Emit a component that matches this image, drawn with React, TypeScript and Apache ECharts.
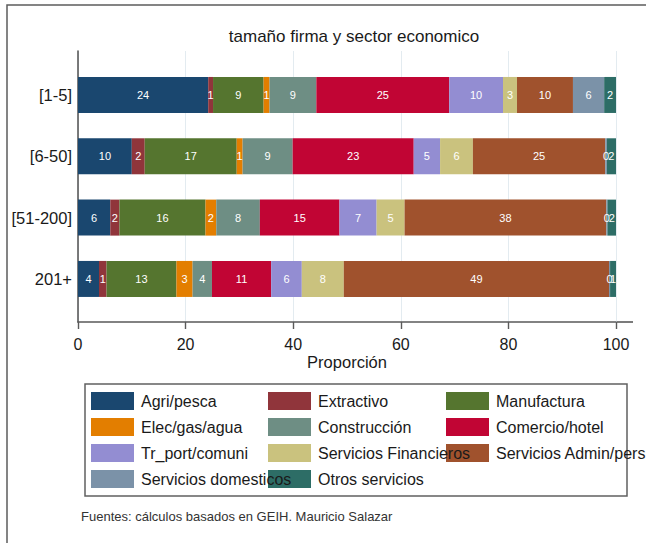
import React, { useEffect, useRef } from 'react';
import * as echarts from 'echarts';

const categories = ['[1-5]', '[6-50]', '[51-200]', '201+'];

const sectorNames = [
  'Agri/pesca', 'Extractivo', 'Manufactura',
  'Elec/gas/agua', 'Construcción', 'Comercio/hotel',
  'Tr_port/comuni', 'Servicios Financieros', 'Servicios Admin/pers',
  'Servicios domesticos', 'Otros servicios',
];
const sectorColors = [
  '#1a476f', '#90353b', '#55752f',
  '#e37e00', '#6e8e84', '#c10534',
  '#938dd2', '#cac27e', '#a0522d',
  '#7b92a8', '#2d6d66',
];

// values per size category: [1-5], [6-50], [51-200], 201+
const agriPesca = [24.2, 10.0, 6.0, 3.9];
const extractivo = [0.9, 2.4, 1.7, 1.4];
const manufactura = [9.4, 17.1, 16.0, 13.0];
const elecGasAgua = [1.1, 1.1, 2.0, 3.0];
const construccion = [8.7, 9.3, 8.1, 3.6];
const comercioHotel = [24.7, 22.5, 14.8, 11.0];
const trPortComuni = [10.0, 4.9, 6.9, 5.7];
const serviciosFinancieros = [2.6, 6.1, 5.2, 7.8];
const serviciosAdmin = [10.4, 24.6, 37.5, 49.3];
const serviciosDomesticos = [5.8, 0.3, 0.2, 0.2];
const otrosServicios = [2.2, 1.7, 1.6, 1.1];

const sectorValues = [
  agriPesca, extractivo, manufactura,
  elecGasAgua, construccion, comercioHotel,
  trPortComuni, serviciosFinancieros, serviciosAdmin,
  serviciosDomesticos, otrosServicios,
];

const FONT = '"Liberation Sans", Arial, Helvetica, sans-serif';

export default function App() {
  const ref = useRef<HTMLDivElement>(null);

  useEffect(() => {
    if (!ref.current) return;
    const chart = echarts.init(ref.current, null, { renderer: 'svg' });

    const series: any[] = sectorNames.map((name, i) => ({
      name,
      type: 'bar',
      stack: 'total',
      xAxisIndex: 1,
      yAxisIndex: 1,
      barWidth: 36,
      data: sectorValues[i],
      itemStyle: { color: sectorColors[i] },
      label: {
        show: true,
        position: 'inside',
        color: '#ffffff',
        fontSize: 11,
        fontFamily: FONT,
        formatter: (p: any) => String(Math.round(p.value)),
      },
    }));

    // three legend columns (row-major order of the 3-column key);
    // earlier columns drawn on top so their long texts overflow onto the next swatches
    const colX = [91, 268, 446];
    const legends = colX.map((x, c) => ({
      data: sectorNames.filter((_, i) => i % 3 === c),
      left: x,
      top: 392,
      z: 10 - c,
      orient: 'vertical',
      padding: 0,
      itemGap: 8,
      itemWidth: 43,
      itemHeight: 18,
      icon: 'rect',
      selectedMode: false,
      textStyle: {
        fontSize: 16,
        color: '#1a1a1a',
        fontFamily: FONT,
        lineHeight: 18,
        padding: [0, 0, 0, 2],
      },
    }));

    const option: any = {
      animation: false,
      backgroundColor: '#ffffff',
      title: {
        text: 'tamaño firma y sector economico',
        left: 354,
        top: 28,
        textAlign: 'center',
        padding: 0,
        textStyle: { fontSize: 17, fontWeight: 'normal', color: '#1a1a1a', fontFamily: FONT },
      },
      grid: [
        { left: 78, top: 51, width: 538, height: 271 },
        { left: 78, top: 64.3, width: 538, height: 245.3 },
      ],
      xAxis: [
        {
          type: 'value',
          gridIndex: 0,
          min: 0,
          max: 100,
          interval: 20,
          name: 'Proporción',
          nameLocation: 'middle',
          nameGap: 31,
          nameTextStyle: { fontSize: 16.5, color: '#1a1a1a', fontFamily: FONT },
          axisLine: { show: true, lineStyle: { color: '#5a5a5a', width: 1.6 } },
          axisTick: { show: true, length: 7, lineStyle: { color: '#5a5a5a', width: 1.4 } },
          axisLabel: { fontSize: 16, color: '#1a1a1a', margin: 14, fontFamily: FONT },
          splitLine: { show: true, lineStyle: { color: '#e3ebf0', width: 1 } },
        },
        {
          type: 'value',
          gridIndex: 1,
          min: 0,
          max: 100,
          show: false,
        },
      ],
      yAxis: [
        {
          type: 'value',
          gridIndex: 0,
          min: 0,
          max: 1,
          axisLine: { show: true, lineStyle: { color: '#5a5a5a', width: 1.6 } },
          axisTick: { show: false },
          axisLabel: { show: false },
          splitLine: { show: false },
        },
        {
          type: 'category',
          gridIndex: 1,
          inverse: true,
          data: categories,
          axisLine: { show: false },
          axisTick: { show: false },
          axisLabel: { fontSize: 16.5, color: '#1a1a1a', margin: 6, fontFamily: FONT },
        },
      ],
      legend: legends,
      graphic: [
        {
          type: 'rect',
          shape: { x: 7, y: 5, width: 700, height: 600 },
          style: { fill: 'none', stroke: '#5c5c5c', lineWidth: 1.5 },
          silent: true,
        },
        {
          type: 'rect',
          shape: { x: 85, y: 384, width: 542, height: 112 },
          style: { fill: 'none', stroke: '#606060', lineWidth: 1.5 },
          silent: true,
        },
        {
          type: 'line',
          shape: { x1: 616, y1: 322, x2: 633, y2: 322 },
          style: { stroke: '#5a5a5a', lineWidth: 1.6 },
          silent: true,
        },
        {
          type: 'text',
          x: 81,
          y: 516,
          style: {
            text: 'Fuentes: cálculos basados en GEIH. Mauricio Salazar',
            fontSize: 13,
            fill: '#333333',
            fontFamily: FONT,
            verticalAlign: 'middle',
            align: 'left',
          },
          silent: true,
        },
      ],
      series,
    };

    chart.setOption(option);
    return () => chart.dispose();
  }, []);

  return (
    <div
      ref={ref}
      style={{ position: 'fixed', left: 0, top: 0, width: 646, height: 543 }}
    />
  );
}
